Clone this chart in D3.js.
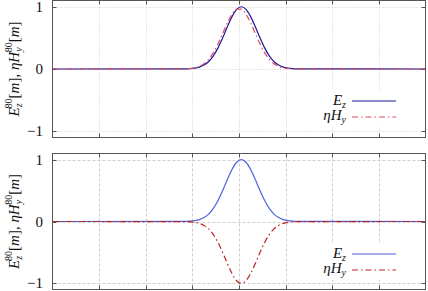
<!DOCTYPE html>
<html>
<head>
<meta charset="utf-8">
<script src="https://cdn.jsdelivr.net/npm/d3@7"></script>
<style>
  html, body { margin: 0; padding: 0; background: #fff; }
  svg text { font-family: "Liberation Serif", "DejaVu Serif", serif; }
</style>
</head>
<body>
<div id="chart"></div>
<script>
// sample positions (grid units, 8 divisions across the panel)
const xs = [0, 2.85, 2.95, 3.05, 3.15, 3.25, 3.35, 3.45, 3.55, 3.65, 3.75, 3.85, 3.95, 4.05,
            4.15, 4.25, 4.35, 4.45, 4.55, 4.65, 4.75, 4.85, 4.95, 5.05, 5.15, 5.25, 8];

// top panel
const ezTop = [0, 0.002, 0.005, 0.013, 0.030, 0.063, 0.120, 0.211, 0.339, 0.500, 0.678, 0.841, 0.958, 1.0,
               0.958, 0.841, 0.678, 0.500, 0.339, 0.211, 0.120, 0.063, 0.030, 0.013, 0.005, 0.002, 0];
const hyTop = [0, 0.003, 0.008, 0.019, 0.043, 0.085, 0.156, 0.262, 0.404, 0.571, 0.740, 0.880, 0.960, 0.960,
               0.880, 0.740, 0.571, 0.404, 0.262, 0.156, 0.085, 0.043, 0.019, 0.008, 0.003, 0.001, 0];

// bottom panel
const ezBot = [0, 0.002, 0.005, 0.013, 0.030, 0.063, 0.120, 0.211, 0.339, 0.500, 0.678, 0.841, 0.958, 1.0,
               0.958, 0.841, 0.678, 0.500, 0.339, 0.211, 0.120, 0.063, 0.030, 0.013, 0.005, 0.002, 0];
const hyBot = [0, -0.002, -0.005, -0.013, -0.030, -0.063, -0.120, -0.211, -0.339, -0.500, -0.678, -0.841, -0.958, -1.0,
               -0.958, -0.841, -0.678, -0.500, -0.339, -0.211, -0.120, -0.063, -0.030, -0.013, -0.005, -0.002, 0];

const xTicks = [0, 1, 2, 3, 4, 5, 6, 7, 8];
const yTicks = [-1, 0, 1];
const yTickLabels = ['\u22121', '0', '1'];

const width = 428, height = 291;
const svg = d3.select('#chart').append('svg')
  .attr('width', width)
  .attr('height', height);

const x = d3.scaleLinear().domain([0, 8]).range([52.5, 425.5]);

const panels = [
  { top: 0.5, bottom: 137.5, ez: ezTop, hy: hyTop, ezColor: '#1a1a9c', hyColor: '#e0485a', grid: '1,2',
    legendY: 101 },
  { top: 153.5, bottom: 289.5, ez: ezBot, hy: hyBot, ezColor: '#4a63dd', hyColor: '#bb2222', grid: '3,2',
    legendY: 254 }
];

panels.forEach(p => {
  const y = d3.scaleLinear().domain([-1.1, 1.1]).range([p.bottom, p.top]);
  const g = svg.append('g');

  // grid
  g.selectAll('.vgrid')
    .data(xTicks.slice(1, -1))
    .enter().append('line')
    .attr('x1', d => Math.round(x(d)) + 0.5).attr('x2', d => Math.round(x(d)) + 0.5)
    .attr('y1', p.top).attr('y2', p.bottom)
    .attr('stroke', '#cfcfcf').attr('stroke-width', 1)
    .attr('stroke-dasharray', p.grid);

  g.selectAll('.hgrid')
    .data(yTicks)
    .enter().append('line')
    .attr('x1', x(0)).attr('x2', x(8))
    .attr('y1', d => Math.round(y(d)) + 0.5).attr('y2', d => Math.round(y(d)) + 0.5)
    .attr('stroke', '#cfcfcf').attr('stroke-width', 1)
    .attr('stroke-dasharray', p.grid);

  // ticks, inward on all four sides
  xTicks.slice(1, -1).forEach(t => {
    const xx = Math.round(x(t)) + 0.5;
    g.append('line').attr('x1', xx).attr('x2', xx).attr('y1', p.bottom).attr('y2', p.bottom - 4)
      .attr('stroke', '#555');
    g.append('line').attr('x1', xx).attr('x2', xx).attr('y1', p.top).attr('y2', p.top + 4)
      .attr('stroke', '#555');
  });
  yTicks.forEach(t => {
    const yy = Math.round(y(t)) + 0.5;
    g.append('line').attr('x1', x(0)).attr('x2', x(0) + 4).attr('y1', yy).attr('y2', yy)
      .attr('stroke', '#555');
    g.append('line').attr('x1', x(8)).attr('x2', x(8) - 4).attr('y1', yy).attr('y2', yy)
      .attr('stroke', '#555');
  });

  // y tick labels
  g.selectAll('.ylab')
    .data(yTicks)
    .enter().append('text')
    .attr('x', 43)
    .attr('y', d => y(d) + 5)
    .attr('text-anchor', 'end')
    .attr('font-size', '15px')
    .attr('fill', '#111')
    .text((d, i) => yTickLabels[i]);

  // legend background box hides grid
  g.append('rect')
    .attr('x', 300).attr('y', p.legendY - 10)
    .attr('width', 106).attr('height', 36)
    .attr('fill', '#fff');

  // curves
  const line = d3.line()
    .x((d, i) => x(xs[i]))
    .y(d => y(d))
    .curve(d3.curveMonotoneX);

  g.append('path')
    .datum(p.ez)
    .attr('d', line)
    .attr('fill', 'none')
    .attr('stroke', p.ezColor)
    .attr('stroke-width', 1.2);

  g.append('path')
    .datum(p.hy)
    .attr('d', line)
    .attr('fill', 'none')
    .attr('stroke', p.hyColor)
    .attr('stroke-width', 1.2)
    .attr('stroke-dasharray', '6,3,1.5,3');

  // legend
  const lx1 = 352, lx2 = 396;
  g.append('line').attr('x1', lx1).attr('x2', lx2).attr('y1', p.legendY).attr('y2', p.legendY)
    .attr('stroke', p.ezColor).attr('stroke-width', 1.2);
  g.append('line').attr('x1', lx1).attr('x2', lx2).attr('y1', p.legendY + 16).attr('y2', p.legendY + 16)
    .attr('stroke', p.hyColor).attr('stroke-width', 1.2).attr('stroke-dasharray', '6,3,1.5,3');

  const t1 = g.append('text')
    .attr('x', 346).attr('y', p.legendY + 4)
    .attr('text-anchor', 'end')
    .attr('font-size', '15px')
    .attr('font-style', 'italic')
    .attr('fill', '#111');
  t1.append('tspan').text('E');
  t1.append('tspan').attr('font-size', '10px').attr('dy', 3).text('z');

  const t2 = g.append('text')
    .attr('x', 346).attr('y', p.legendY + 19)
    .attr('text-anchor', 'end')
    .attr('font-size', '15px')
    .attr('font-style', 'italic')
    .attr('fill', '#111');
  t2.append('tspan').text('\u03b7H');
  t2.append('tspan').attr('font-size', '10px').attr('dy', 3).text('y');

  // border
  g.append('rect')
    .attr('x', x(0)).attr('y', p.top)
    .attr('width', x(8) - x(0)).attr('height', p.bottom - p.top)
    .attr('fill', 'none')
    .attr('stroke', '#555')
    .attr('stroke-width', 1);

  // y axis title
  const cy = (p.top + p.bottom) / 2;
  const lab = g.append('text')
    .attr('transform', `translate(19,${cy}) rotate(-90)`)
    .attr('text-anchor', 'middle')
    .attr('font-size', '15px')
    .attr('fill', '#111');
  lab.append('tspan').attr('font-style', 'italic').text('E');
  lab.append('tspan').attr('font-style', 'italic').attr('font-size', '10px').attr('dy', 3).text('z');
  lab.append('tspan').attr('font-size', '10px').attr('dx', -5).attr('dy', -10).text('80');
  lab.append('tspan').attr('dy', 7).text('[');
  lab.append('tspan').attr('font-style', 'italic').text('m');
  lab.append('tspan').text('], ');
  lab.append('tspan').attr('font-style', 'italic').text('\u03b7H');
  lab.append('tspan').attr('font-style', 'italic').attr('font-size', '10px').attr('dy', 3).text('y');
  lab.append('tspan').attr('font-size', '10px').attr('dx', -5).attr('dy', -10).text('80');
  lab.append('tspan').attr('dy', 7).text('[');
  lab.append('tspan').attr('font-style', 'italic').text('m');
  lab.append('tspan').text(']');
});
</script>
</body>
</html>
